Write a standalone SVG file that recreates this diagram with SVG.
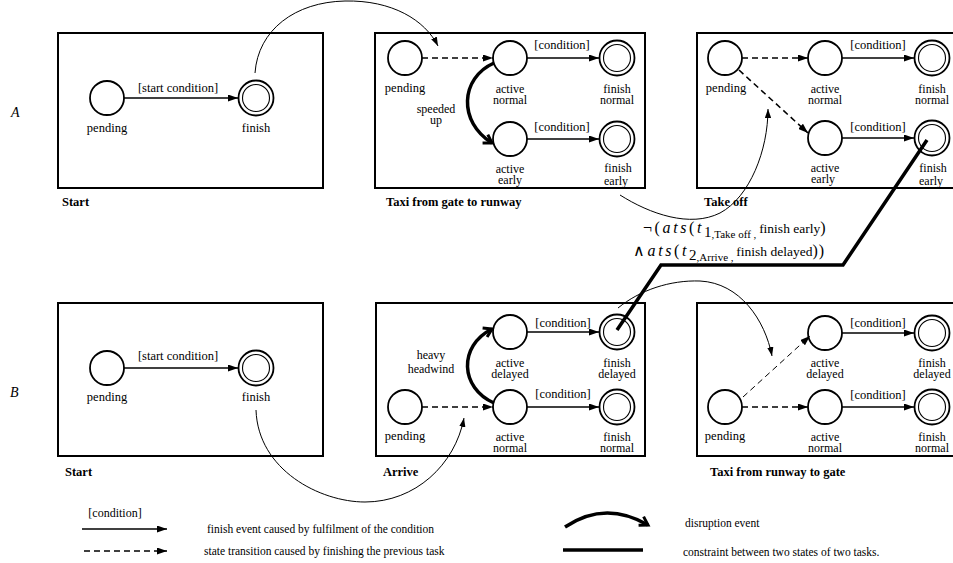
<svg xmlns="http://www.w3.org/2000/svg" width="953" height="563" viewBox="0 0 953 563" font-family="'Liberation Serif', serif">
<style>
.bg{fill:#fff}
.box{fill:none;stroke:#000;stroke-width:2}
.st{fill:#fff;stroke:#000;stroke-width:1.8}
.fo{fill:#fff;stroke:#000;stroke-width:1.8}
.fi{fill:none;stroke:#000;stroke-width:1.1}
text{font-family:'Liberation Serif', serif;fill:#000}
.lbl{font-size:12.5px;text-anchor:middle}
.l2{font-size:12px;text-anchor:middle}
.ttl{font-size:12.5px;font-weight:bold}
.row{font-size:14px;font-style:italic}
.leg{font-size:11.5px}
.sol{fill:none;stroke:#000;stroke-width:1.6;marker-end:url(#tri)}
.dsh{fill:none;stroke:#000;stroke-width:1.6;stroke-dasharray:6 4;marker-end:url(#tri)}
.dshl{fill:none;stroke:#000;stroke-width:1;stroke-dasharray:6 4;marker-end:url(#tri)}
.dis{fill:none;stroke:#000;stroke-width:3.5;marker-end:url(#chev)}
.thin{fill:none;stroke:#000;stroke-width:1;marker-end:url(#tris)}
.con{fill:none;stroke:#000;stroke-width:3.5;stroke-linejoin:miter}
.f1{font-size:16px;letter-spacing:2.6px}
</style>
<defs>
<marker id="tri" viewBox="0 0 10 7" refX="10" refY="3.5" markerWidth="10" markerHeight="7" markerUnits="userSpaceOnUse" orient="auto"><path d="M0,0 L10,3.5 L0,7 z" fill="#000"/></marker>
<marker id="tris" viewBox="0 0 10 7" refX="10" refY="3.5" markerWidth="9" markerHeight="6.5" markerUnits="userSpaceOnUse" orient="auto"><path d="M0,0 L10,3.5 L0,7 z" fill="#000"/></marker>
<marker id="chev" viewBox="-2 -2 14 14" refX="9" refY="5" markerWidth="14" markerHeight="14" markerUnits="userSpaceOnUse" orient="auto"><path d="M1,0 L9,5 L1,10" fill="none" stroke="#000" stroke-width="3"/></marker>
</defs>
<rect class="bg" x="0" y="0" width="953" height="563"/>

<text class="row" x="11" y="117">A</text>
<text class="row" x="10" y="397">B</text>

<!-- Row A, task Start -->
<g id="A-start">
<rect class="box" x="58" y="33" width="265" height="155"/>
<text class="ttl" x="62" y="206">Start</text>
<g id="A-start-pending"><circle class="st" cx="107" cy="98" r="17"/><text class="lbl" x="107" y="132">pending</text></g>
<g id="A-start-finish"><circle class="fo" cx="256" cy="98" r="17.5"/><circle class="fi" cx="256" cy="98" r="13.5"/><text class="lbl" x="256" y="132">finish</text></g>
<text class="lbl" x="178" y="92">[start condition]</text>
</g>

<!-- Row A, Taxi from gate to runway -->
<g id="A-taxi">
<rect class="box" x="375" y="33" width="270" height="155"/>
<text class="ttl" x="386" y="206">Taxi from gate to runway</text>
<g id="A-taxi-pending"><circle class="st" cx="405" cy="58" r="17"/><text class="lbl" x="405" y="92">pending</text></g>
<g id="A-taxi-active-normal"><circle class="st" cx="510" cy="58" r="17"/><text class="l2" x="510" y="92.5">active</text><text class="l2" x="510" y="103.5">normal</text></g>
<g id="A-taxi-finish-normal"><circle class="fo" cx="617" cy="58" r="17.5"/><circle class="fi" cx="617" cy="58" r="13.5"/><text class="l2" x="617" y="92.5">finish</text><text class="l2" x="617" y="103.5">normal</text></g>
<g id="A-taxi-active-early"><circle class="st" cx="510" cy="139" r="17"/><text class="l2" x="510" y="172.5">active</text><text class="l2" x="510" y="183.5">early</text></g>
<g id="A-taxi-finish-early"><circle class="fo" cx="617" cy="139" r="17.5"/><circle class="fi" cx="617" cy="139" r="13.5"/><text class="l2" x="618" y="171.5">finish</text><text class="l2" x="616" y="185">early</text></g>
<text class="lbl" x="562" y="49">[condition]</text>
<text class="lbl" x="562" y="131">[condition]</text>
<text class="l2" x="436" y="112.5">speeded</text>
<text class="l2" x="436" y="124">up</text>
</g>

<!-- Row A, Take off -->
<g id="A-takeoff">
<rect class="box" x="697" y="33" width="270" height="155"/>
<text class="ttl" x="704" y="206">Take off</text>
<g id="A-takeoff-pending"><circle class="st" cx="725" cy="58" r="17"/><text class="lbl" x="726" y="92">pending</text></g>
<g id="A-takeoff-active-normal"><circle class="st" cx="825" cy="58" r="17"/><text class="l2" x="825" y="92.5">active</text><text class="l2" x="825" y="103.5">normal</text></g>
<g id="A-takeoff-finish-normal"><circle class="fo" cx="932" cy="58" r="17.5"/><circle class="fi" cx="932" cy="58" r="13.5"/><text class="l2" x="932" y="92.5">finish</text><text class="l2" x="932" y="103.5">normal</text></g>
<g id="A-takeoff-active-early"><circle class="st" cx="825" cy="138" r="17"/><text class="l2" x="825" y="171.5">active</text><text class="l2" x="823" y="183">early</text></g>
<g id="A-takeoff-finish-early"><circle class="fo" cx="932" cy="138" r="17.5"/><circle class="fi" cx="932" cy="138" r="13.5"/><text class="l2" x="933" y="171.5">finish</text><text class="l2" x="931" y="185">early</text></g>
<text class="lbl" x="878" y="49">[condition]</text>
<text class="lbl" x="878" y="131">[condition]</text>
</g>

<!-- Row B, Start -->
<g id="B-start">
<rect class="box" x="58" y="303" width="265" height="153"/>
<text class="ttl" x="65" y="476">Start</text>
<g id="B-start-pending"><circle class="st" cx="107" cy="368" r="17"/><text class="lbl" x="107" y="401">pending</text></g>
<g id="B-start-finish"><circle class="fo" cx="256" cy="368" r="17.5"/><circle class="fi" cx="256" cy="368" r="13.5"/><text class="lbl" x="256" y="401">finish</text></g>
<text class="lbl" x="178" y="360">[start condition]</text>
</g>

<!-- Row B, Arrive -->
<g id="B-arrive">
<rect class="box" x="376" y="303" width="269" height="153"/>
<text class="ttl" x="383" y="476">Arrive</text>
<g id="B-arrive-active-delayed"><circle class="st" cx="510" cy="332" r="17"/><text class="l2" x="510" y="366.5">active</text><text class="l2" x="510" y="377.5">delayed</text></g>
<g id="B-arrive-finish-delayed"><circle class="fo" cx="617" cy="332" r="17.5"/><circle class="fi" cx="617" cy="332" r="13.5"/><text class="l2" x="617" y="366.5">finish</text><text class="l2" x="617" y="377.5">delayed</text></g>
<g id="B-arrive-pending"><circle class="st" cx="405" cy="407" r="17"/><text class="lbl" x="405" y="440">pending</text></g>
<g id="B-arrive-active-normal"><circle class="st" cx="510" cy="407" r="17"/><text class="l2" x="510" y="440.5">active</text><text class="l2" x="510" y="452">normal</text></g>
<g id="B-arrive-finish-normal"><circle class="fo" cx="617" cy="407" r="17.5"/><circle class="fi" cx="617" cy="407" r="13.5"/><text class="l2" x="617" y="440.5">finish</text><text class="l2" x="617" y="452">normal</text></g>
<text class="lbl" x="563" y="327">[condition]</text>
<text class="lbl" x="563" y="398">[condition]</text>
<text class="l2" x="431" y="358.5">heavy</text>
<text class="l2" x="431" y="373">headwind</text>
</g>

<!-- Row B, Taxi from runway to gate -->
<g id="B-taxi">
<rect class="box" x="697" y="303" width="270" height="153"/>
<text class="ttl" x="710" y="476">Taxi from runway to gate</text>
<g id="B-taxi-active-delayed"><circle class="st" cx="825" cy="333" r="17"/><text class="l2" x="825" y="366.5">active</text><text class="l2" x="825" y="377.5">delayed</text></g>
<g id="B-taxi-finish-delayed"><circle class="fo" cx="932" cy="333" r="17.5"/><circle class="fi" cx="932" cy="333" r="13.5"/><text class="l2" x="932" y="366.5">finish</text><text class="l2" x="932" y="377.5">delayed</text></g>
<g id="B-taxi-pending"><circle class="st" cx="725" cy="407" r="17"/><text class="lbl" x="725" y="440">pending</text></g>
<g id="B-taxi-active-normal"><circle class="st" cx="825" cy="407" r="17"/><text class="l2" x="825" y="440.5">active</text><text class="l2" x="825" y="452">normal</text></g>
<g id="B-taxi-finish-normal"><circle class="fo" cx="932" cy="407" r="17.5"/><circle class="fi" cx="932" cy="407" r="13.5"/><text class="l2" x="932" y="440.5">finish</text><text class="l2" x="932" y="452">normal</text></g>
<text class="lbl" x="878" y="327">[condition]</text>
<text class="lbl" x="878" y="399">[condition]</text>
</g>

<!-- Connectors -->
<g id="connectors">
<path class="sol" d="M124,98 L238,98"/>
<path class="dsh" d="M422,58 L493,58"/>
<path class="sol" d="M527,58 L599,58"/>
<path class="sol" d="M527,139 L599,139"/>
<path class="dis" d="M494,63 C460,78 458,122 492,143"/>
<path class="dsh" d="M742,58 L808,58"/>
<path class="dsh" d="M739,70 L808,133"/>
<path class="sol" d="M842,58 L914,58"/>
<path class="sol" d="M842,138 L914,138"/>
<path class="sol" d="M124,368 L238,368"/>
<path class="dsh" d="M422,407 L493,407"/>
<path class="sol" d="M527,332 L599,332"/>
<path class="sol" d="M527,407 L599,407"/>
<path class="dis" d="M494,403 C460,388 458,346 492,329"/>
<path class="dsh" d="M742,407 L808,407"/>
<path class="dshl" d="M743,397 L810,336"/>
<path class="sol" d="M842,333 L914,333"/>
<path class="sol" d="M842,407 L914,407"/>
<path class="thin" d="M255,73 C258,30 295,2 345,1 C392,0 425,20 438,46"/>
<path class="thin" d="M620,195 C650,214 690,228 720,213 C750,197 768,150 768,109"/>
<path class="thin" d="M256,410 C258,470 320,502 365,502 C415,502 455,465 464,418"/>
<path class="thin" d="M618,308 C640,290 670,280 700,281 C740,283 765,320 772,356"/>
<path class="con" d="M617,330 L661,265 L843,265 L927,140"/>
</g>

<!-- constraint formula -->
<text x="643" y="233"><tspan class="f1">¬(</tspan><tspan class="f1" font-style="italic">ats</tspan><tspan class="f1">(</tspan><tspan class="f1" font-style="italic">t</tspan><tspan dy="4" font-size="15">1</tspan><tspan dy="1" font-size="11">,Take off , </tspan><tspan dy="-5" font-size="13.5">finish early</tspan><tspan font-size="16">)</tspan></text>
<text x="633" y="256"><tspan class="f1">∧</tspan><tspan class="f1" font-style="italic">ats</tspan><tspan class="f1">(</tspan><tspan class="f1" font-style="italic">t</tspan><tspan dy="4" font-size="15">2</tspan><tspan dy="1" font-size="11">,Arrive , </tspan><tspan dy="-5" font-size="13.5">finish delayed</tspan><tspan font-size="16" letter-spacing="1">))</tspan></text>

<!-- Legend -->
<g id="legend">
<text x="115" y="517" font-size="12" text-anchor="middle">[condition]</text>
<path class="sol" d="M82,529 L167,529"/>
<text class="leg" x="207" y="533">finish event caused by fulfilment of the condition</text>
<path class="dsh" d="M84,551 L167,551"/>
<text class="leg" x="204" y="555">state transition caused by finishing the previous task</text>
<path class="dis" d="M565,527 Q605,500 648,525"/>
<text class="leg" x="685" y="527">disruption event</text>
<path fill="none" stroke="#000" stroke-width="3.5" d="M563,550 L643,550"/>
<text class="leg" x="683" y="556">constraint between two states of two tasks.</text>
</g>
</svg>
